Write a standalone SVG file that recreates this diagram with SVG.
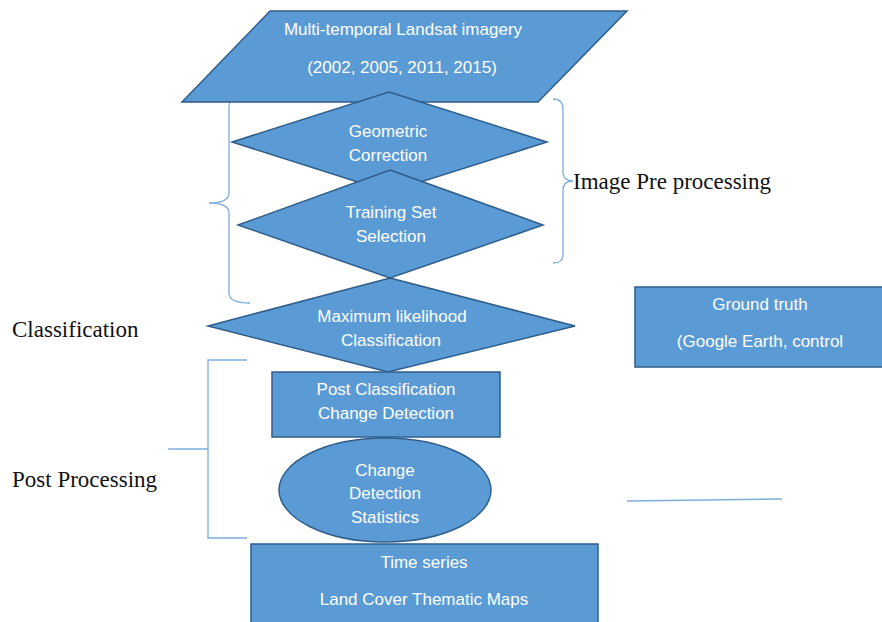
<svg xmlns="http://www.w3.org/2000/svg" width="882" height="622" viewBox="0 0 882 622">
<style>
.shape{fill:#5B9BD5;stroke:#2F5D8A;stroke-width:1.5}
.t{font-family:"Liberation Sans",Arial,sans-serif;font-size:17px;fill:#FFFFFF;text-anchor:middle}
.lbl{font-family:"Liberation Serif","Times New Roman",serif;font-size:23px;fill:#111111}
.br{fill:none;stroke:#7FAEDB;stroke-width:1.3}
</style>
<rect width="882" height="622" fill="#FFFFFF"/>
<g id="connectors">
<path class="br" d="M250,96 Q229,96 229,106 L229,193 Q229,203 209,203 Q229,203 229,213 L229,293 Q229,303 250,303"/>
<path class="br" d="M553,99 Q563,99 563,109 L563,172 Q563,181 573,181 Q563,181 563,190 L563,255 Q563,263 553,263"/>
<path class="br" d="M247,360 L208,360 L208,538 L247,538 M168,449 L208,449"/>
<path class="br" d="M627,501 L782,499"/>
</g>
<g id="n-landsat">
<polygon class="shape" points="270,11 627,11 538,102 182,102"/>
<text class="t" x="403" y="35">Multi-temporal Landsat imagery</text>
<text class="t" x="402" y="73">(2002, 2005, 2011, 2015)</text>
</g>
<g id="n-geometric">
<polygon class="shape" points="389,92 547,142 389,192 232,142"/>
<text class="t" x="388" y="137">Geometric</text>
<text class="t" x="388" y="161">Correction</text>
</g>
<g id="n-training">
<polygon class="shape" points="390,170 543,225 390,278 238,225"/>
<text class="t" x="391" y="218">Training Set</text>
<text class="t" x="391" y="242">Selection</text>
</g>
<g id="n-mlc">
<polygon class="shape" points="390,278 575,326 388,372 208,326"/>
<text class="t" x="392" y="322">Maximum likelihood</text>
<text class="t" x="391" y="346">Classification</text>
</g>
<g id="n-pccd">
<rect class="shape" x="272" y="372" width="228" height="65"/>
<text class="t" x="386" y="395">Post Classification</text>
<text class="t" x="386" y="419">Change Detection</text>
</g>
<g id="n-stats">
<ellipse class="shape" cx="385" cy="490" rx="106" ry="52"/>
<text class="t" x="385" y="476">Change</text>
<text class="t" x="385" y="499">Detection</text>
<text class="t" x="385" y="523">Statistics</text>
</g>
<g id="n-maps">
<rect class="shape" x="251" y="544" width="347" height="84"/>
<text class="t" x="424" y="568">Time series</text>
<text class="t" x="424" y="605">Land Cover Thematic Maps</text>
</g>
<g id="n-ground">
<rect class="shape" x="635" y="287" width="252" height="80"/>
<text class="t" x="760" y="310">Ground truth</text>
<text class="t" x="760" y="347">(Google Earth, control</text>
</g>
<g id="labels">
<text class="lbl" x="573" y="189">Image Pre processing</text>
<text class="lbl" x="12" y="337">Classification</text>
<text class="lbl" x="12" y="487">Post Processing</text>
</g>
</svg>
